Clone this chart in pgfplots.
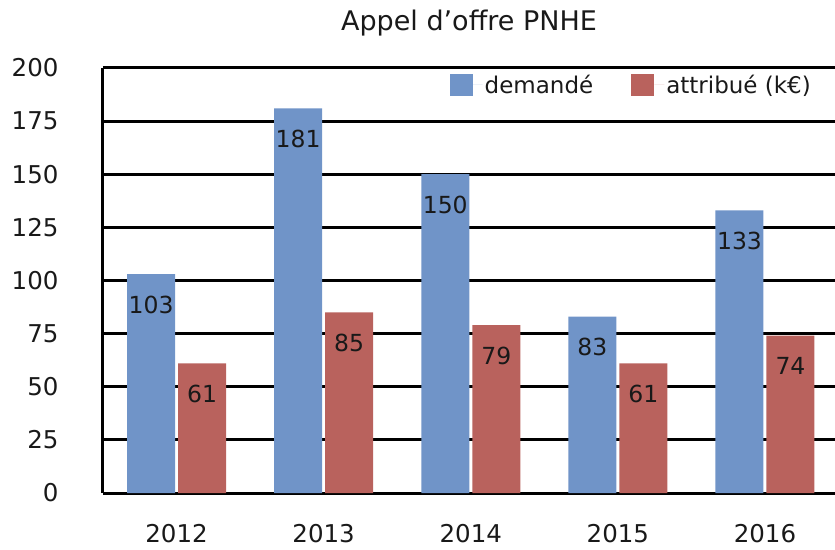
\documentclass[border=0pt]{standalone}
\usepackage{pgfplots}
\pgfplotsset{compat=1.18}
\usepackage{fontspec}
\setmainfont{DejaVu Sans}
\definecolor{cblue}{RGB}{112,148,200}
\definecolor{cred}{RGB}{185,98,93}
\begin{document}
\begin{tikzpicture}
\begin{axis}[
 name=ax,
 scale only axis, width=732pt, height=425pt,
 xmin=-0.5, xmax=4.476, ymin=0, ymax=200,
 ybar=3pt, bar width=48pt,
 xtick={0,...,4}, xticklabels={2012,2013,2014,2015,2016},
 ytick={0,25,...,200},
 major tick length=0pt,
 axis x line*=bottom, axis y line*=left,
 axis line style={-, black, line width=3pt},
 ymajorgrids, grid style={black, line width=3pt},
 clip=false,
 /pgf/number format/assume math mode=true,
 ticklabel style={font=\fontsize{24.5}{28}\selectfont, text=black!90},
 yticklabel style={xshift=-41pt},
 xticklabel style={yshift=-28pt},
 title={Appel d’offre PNHE},
 title style={at={(0.5,1)}, anchor=center, yshift=39pt, font=\fontsize{27}{31}\selectfont, text=black!90},
 nodes near coords,
 every node near coord/.append style={anchor=north, yshift=-18pt, font=\fontsize{23.5}{27}\selectfont, text=black!90},
 legend columns=2,
 legend style={draw=none, fill=none, at={(1,1)}, anchor=east, xshift=-19pt, yshift=-17pt,
   font=\fontsize{23}{27}\selectfont, text=black!90,
   /tikz/every even column/.append style={column sep=36pt}},
 legend image code/.code={\fill[#1] (0pt,-11pt) rectangle (23pt,11pt); \path (23pt,0pt) -- (33pt,0pt);},
]
\addplot[fill=cblue, draw=none] coordinates {(0,103) (1,181) (2,150) (3,83) (4,133)};
\addplot[fill=cred, draw=none] coordinates {(0,61) (1,85) (2,79) (3,61) (4,74)};
\legend{demandé, attribué (k€)}
\end{axis}
\pgfresetboundingbox
\path (ax.south west) ++(-103pt,-56pt) rectangle ++(835pt,549pt);
\end{tikzpicture}
\end{document}
